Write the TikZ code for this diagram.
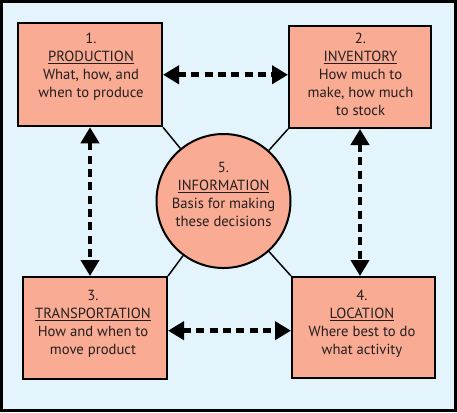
\documentclass[tikz,border=0pt]{standalone}
\usepackage{fontspec}
\setmainfont{PT Sans}
\usetikzlibrary{arrows.meta}
\definecolor{bgblue}{HTML}{E4F4FC}
\definecolor{salmon}{HTML}{F9AB93}
\definecolor{ink}{HTML}{231F20}
\begin{document}
\begin{tikzpicture}[x=0.75pt,y=-0.75pt,
  box/.style={draw=black, line width=1.5pt, fill=salmon, inner sep=0pt},
  infocircle/.style={circle, draw=black, line width=1.5pt, fill=salmon, minimum size=100.5pt, inner sep=0pt},
  lbl/.style={anchor=north, align=center, inner sep=0pt, text=ink, font=\fontsize{11pt}{13.5pt}\selectfont},
  link/.style={draw=black, line width=1.1pt},
  darrow/.style={{Triangle[width=13.5pt,length=12pt]}-{Triangle[width=13.5pt,length=12pt]}, line width=3.6pt, dash pattern=on 6pt off 4pt}
]
\useasboundingbox (0,0) rectangle (457,412);
\draw[fill=bgblue, draw=black, line width=2.25pt] (1.5,1.5) rectangle (455.5,410.5);

\node[infocircle] (c) at (223.5,201) {};
\node[box, minimum width=108pt, minimum height=77.25pt] (b1) at (90,74.75) {};
\node[box, minimum width=106.5pt, minimum height=76.5pt] (b2) at (360,77) {};
\node[box, minimum width=108pt, minimum height=76.5pt] (b3) at (95,328) {};
\node[box, minimum width=107.25pt, minimum height=75.75pt] (b4) at (363.5,327.5) {};

\draw[link] (b1.south east) -- (c);
\draw[link] (b2.south west) -- (c);
\draw[link] (b3.north east) -- (c);
\draw[link] (b4.north west) -- (c);

\node[lbl] (t1) at (91,33) {1.\\\underline{PRODUCTION}\\What, how, and\\when to produce};
\node[lbl] (t2) at (360.5,33) {2.\\\underline{INVENTORY}\\How much to\\make, how much\\to stock};
\node[lbl] (t3) at (93,290) {3.\\\underline{TRANSPORTATION}\\How and when to\\move product};
\node[lbl] (t4) at (362,290) {4.\\\underline{LOCATION}\\Where best to do\\what activity};
\node[lbl] (t5) at (223.5,162) {5.\\\underline{INFORMATION}\\Basis for making\\these decisions};

\draw[darrow] (b1.east) -- (b1.east -| b2.west);
\draw[darrow] (b1.south) -- (b1.south |- b3.north);
\draw[darrow] (b2.south) -- (b2.south |- b4.north);
\draw[darrow] ([yshift=-2pt]b3.east) -- ([yshift=-2pt]b3.east -| b4.west);
\end{tikzpicture}
\end{document}
